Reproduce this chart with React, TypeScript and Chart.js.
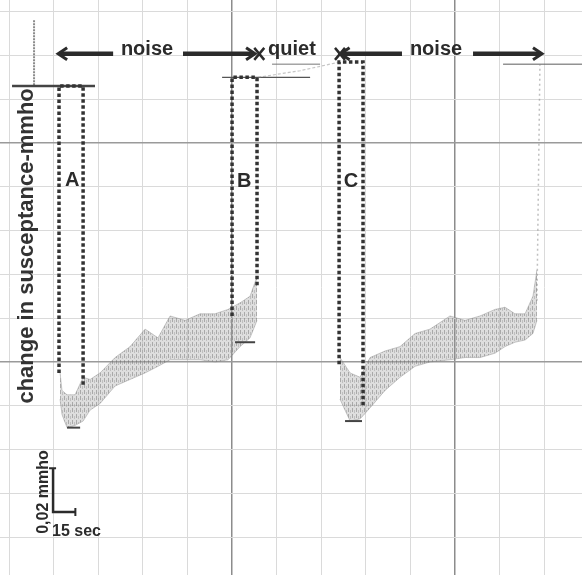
import { useEffect, useRef } from "react";
import { Chart, registerables } from "chart.js";

Chart.register(...registerables);

// Units: x = time in seconds (one grid square = 30 s),
//        y = change in susceptance in mmho (one grid square = 0.02 mmho)

// ---- grid / axis ----
const GRID_TIMES = [0, 30, 60, 90, 120, 150, 180, 210, 240, 270, 300, 330, 360];
const GRID_LEVELS = [0.06, 0.04, 0.02, 0, -0.02, -0.04, -0.06, -0.08, -0.1, -0.12, -0.14, -0.16, -0.18];
const MAJOR_TIMES = [150, 300];
const MAJOR_LEVELS = [0, -0.1];
const TIME_MIN = -6.1;
const TIME_MAX = 385.4;
const LEVEL_MIN = -0.1973;
const LEVEL_MAX = 0.0653;

// ---- recorder trace: noise period 1 (after A) ----
const trace1Times = [34.3, 35.6, 39.0, 44.4, 49.8, 54.5, 61.2, 71.3, 81.4, 91.5, 100.2, 108.3, 118.4, 128.5, 138.6, 147.3, 155.4, 162.1, 166.8];
const trace1Upper = [-0.105, -0.113, -0.115, -0.115, -0.107, -0.108, -0.105, -0.098, -0.093, -0.085, -0.089, -0.079, -0.081, -0.078, -0.078, -0.076, -0.073, -0.070, -0.061];
const trace1Lower = [-0.117, -0.124, -0.130, -0.129, -0.127, -0.122, -0.119, -0.111, -0.108, -0.105, -0.102, -0.099, -0.099, -0.099, -0.100, -0.099, -0.093, -0.089, -0.081];

// ---- recorder trace: noise period 2 (after C) ----
const trace2Times = [222.6, 229.4, 236.1, 242.8, 252.9, 263.0, 273.1, 283.2, 296.6, 306.7, 316.8, 326.9, 333.6, 340.3, 347.1, 352.4, 355.1];
const trace2Upper = [-0.098, -0.105, -0.107, -0.098, -0.095, -0.093, -0.087, -0.085, -0.079, -0.081, -0.079, -0.076, -0.075, -0.078, -0.078, -0.070, -0.058];
const trace2Lower = [-0.117, -0.127, -0.126, -0.121, -0.113, -0.107, -0.102, -0.100, -0.099, -0.098, -0.098, -0.096, -0.093, -0.091, -0.090, -0.087, -0.081];

// ---- recovery after period 2 ----
const riseTimes = [355.1, 357.1];
const riseLevels = [-0.072, 0.036];

// ---- baselines / quiet period ----
const baseATimes = [2.0, 57.8];
const baseALevels = [0.026, 0.026];
const quietTimes = [167.5, 195.7, 222.6];
const quietLevels = [0.030, 0.033, 0.037];
const refBTimes = [143.3, 202.5];
const refBLevels = [0.030, 0.030];
const refCTimes = [176.9, 209.2];
const refCLevels = [0.036, 0.036];
const endTimes = [332.3, 385.4];
const endLevels = [0.036, 0.036];
const markTimes = [16.8, 16.8];
const markLevels = [0.056, 0.026];

// ---- response boxes A, B, C (left-bottom, left-top, right-top, right-bottom) ----
const boxATimes = [33.6, 33.6, 49.8, 49.8];
const boxALevels = [-0.105, 0.026, 0.026, -0.111];
const boxBTimes = [150.0, 150.0, 166.8, 166.8];
const boxBLevels = [-0.079, 0.030, 0.030, -0.065];
const boxCTimes = [222.0, 222.0, 238.1, 238.1];
const boxCLevels = [-0.101, 0.037, 0.037, -0.120];

// ---- minimum markers ----
const minATimes = [39.0, 47.8];
const minALevels = [-0.130, -0.130];
const minBTimes = [152.0, 165.5];
const minBLevels = [-0.091, -0.091];
const minCTimes = [226.0, 237.4];
const minCLevels = [-0.127, -0.127];

// ---- scale bar ----
const SCALE_BAR_SEC = 15;
const SCALE_BAR_MMHO = 0.02;
const scaleBarOrigin = [29.6, -0.1685];

// ---- text ----
const Y_TITLE = "change in susceptance-mmho";
const BOX_NAMES = ["A", "B", "C"];
const PERIOD_NAMES = ["noise", "quiet", "noise"];
const SCALE_TEXT_Y = "0,02 mmho";
const SCALE_TEXT_X = "15 sec";

const INK = "#2b2b2b";
const FONT = '"Liberation Sans", Arial, Helvetica, sans-serif';

const pts = (xs: number[], ys: number[]) => xs.map((x, i) => ({ x, y: ys[i] }));

function makePattern(): CanvasPattern | string {
  const c = document.createElement("canvas");
  c.width = 4;
  c.height = 6;
  const g = c.getContext("2d");
  if (!g) return "rgba(140,140,140,0.45)";
  g.fillStyle = "rgba(160,160,160,0.35)";
  g.fillRect(0, 0, 4, 6);
  g.fillStyle = "rgba(90,90,90,0.40)";
  g.fillRect(0, 0, 1, 4);
  g.fillStyle = "rgba(120,120,120,0.30)";
  g.fillRect(2, 2, 1, 3);
  const p = g.createPattern(c, "repeat");
  return p || "rgba(140,140,140,0.45)";
}

const annotationPlugin = {
  id: "recorderAnnotations",
  afterDatasetsDraw(chart: any) {
    const { ctx } = chart;
    const xs = chart.scales.x;
    const ys = chart.scales.y;
    const px = (t: number) => xs.getPixelForValue(t);
    const py = (v: number) => ys.getPixelForValue(v);
    ctx.save();
    ctx.fillStyle = INK;
    ctx.strokeStyle = INK;
    ctx.lineCap = "butt";

    // period labels
    ctx.font = `bold 20px ${FONT}`;
    ctx.textAlign = "center";
    ctx.textBaseline = "middle";
    const periodPos = [[92.8, 0.0425], [190.3, 0.0425], [287.2, 0.0425]];
    PERIOD_NAMES.forEach((s, i) => ctx.fillText(s, px(periodPos[i][0]), py(periodPos[i][1])));

    // box labels
    const boxPos = [[42.4, -0.0169], [158.1, -0.0178], [230.0, -0.0174]];
    BOX_NAMES.forEach((s, i) => ctx.fillText(s, px(boxPos[i][0]), py(boxPos[i][1])));

    // arrows
    const shaft = (t0: number, t1: number, v: number) => {
      ctx.lineWidth = 4.5;
      ctx.beginPath();
      ctx.moveTo(px(t0), py(v));
      ctx.lineTo(px(t1), py(v));
      ctx.stroke();
    };
    const head = (t: number, v: number, dir: number) => {
      const x0 = px(t), y0 = py(v);
      ctx.lineWidth = 3;
      ctx.beginPath();
      ctx.moveTo(x0 - dir * 9, y0 - 6);
      ctx.lineTo(x0, y0);
      ctx.lineTo(x0 - dir * 9, y0 + 6);
      ctx.stroke();
    };
    const cross = (t: number, v: number) => {
      const x0 = px(t), y0 = py(v);
      ctx.lineWidth = 2.5;
      ctx.beginPath();
      ctx.moveTo(x0 - 5, y0 - 6);
      ctx.lineTo(x0 + 5, y0 + 6);
      ctx.moveTo(x0 + 5, y0 - 6);
      ctx.lineTo(x0 - 5, y0 + 6);
      ctx.stroke();
    };
    const av = 0.0407;
    shaft(33.8, 70.0, av);
    head(33.0, av, -1);
    shaft(117.0, 164.5, av);
    head(165.5, av, 1);
    cross(168.3, av);
    cross(222.6, av);
    head(223.0, av, -1);
    shaft(224.0, 264.3, av);
    shaft(312.1, 357.5, av);
    head(358.5, av, 1);

    // y title
    ctx.save();
    ctx.translate(px(12.1), py(-0.047));
    ctx.rotate(-Math.PI / 2);
    ctx.font = `bold 22px ${FONT}`;
    ctx.fillStyle = "#333";
    ctx.fillText(Y_TITLE, 0, 0);
    ctx.restore();

    // scale bar serifs and texts
    const bx = px(scaleBarOrigin[0]);
    const by = py(scaleBarOrigin[1]);
    const bt = py(scaleBarOrigin[1] + SCALE_BAR_MMHO);
    const br = px(scaleBarOrigin[0] + SCALE_BAR_SEC);
    ctx.lineWidth = 2;
    ctx.beginPath();
    ctx.moveTo(bx - 4, bt);
    ctx.lineTo(bx + 3, bt);
    ctx.moveTo(br, by - 4);
    ctx.lineTo(br, by + 4);
    ctx.stroke();

    ctx.save();
    ctx.translate(bx - 9, (bt + by) / 2 + 2);
    ctx.rotate(-Math.PI / 2);
    ctx.font = `bold 16px ${FONT}`;
    ctx.fillText(SCALE_TEXT_Y, 0, 0);
    ctx.restore();

    ctx.font = `bold 16px ${FONT}`;
    ctx.textAlign = "left";
    ctx.fillText(SCALE_TEXT_X, bx - 1, by + 20);

    ctx.restore();
  },
};

export default function App() {
  const ref = useRef<HTMLCanvasElement | null>(null);

  useEffect(() => {
    document.body.style.margin = "0";
    const canvas = ref.current;
    if (!canvas) return;
    const band = makePattern();
    const line = (data: any, color: string, width: number, extra: any = {}) => ({
      data,
      borderColor: color,
      borderWidth: width,
      pointRadius: 0,
      fill: false,
      tension: 0,
      ...extra,
    });
    const dotted = { borderDash: [3.5, 2.5], borderCapStyle: "butt" };
    const isMajor = (v: number, list: number[]) => list.some((m) => Math.abs(m - v) < 1e-9);

    const chart = new Chart(canvas, {
      type: "line",
      data: {
        datasets: [
          line(pts(boxATimes, boxALevels), "#333", 3.5, dotted),
          line(pts(boxBTimes, boxBLevels), "#333", 3.5, dotted),
          line(pts(boxCTimes, boxCLevels), "#333", 3.5, dotted),
          line(pts(minATimes, minALevels), "#444", 2),
          line(pts(minBTimes, minBLevels), "#444", 2),
          line(pts(minCTimes, minCLevels), "#444", 2),
          line(pts(trace1Times, trace1Upper), "rgba(130,130,130,0.4)", 1),
          line(pts(trace1Times, trace1Lower), "rgba(130,130,130,0.4)", 1, { fill: "-1", backgroundColor: band }),
          line(pts(trace2Times, trace2Upper), "rgba(130,130,130,0.4)", 1),
          line(pts(trace2Times, trace2Lower), "rgba(130,130,130,0.4)", 1, { fill: "-1", backgroundColor: band }),
          line(pts(riseTimes, riseLevels), "rgba(130,130,130,0.5)", 1.5, { borderDash: [2, 3] }),
          line(pts(baseATimes, baseALevels), "#444", 2.5),
          line(pts(quietTimes, quietLevels), "rgba(140,140,140,0.5)", 1.2, { borderDash: [3, 2] }),
          line(pts(refBTimes, refBLevels), "#555", 1.2),
          line(pts(refCTimes, refCLevels), "#777", 1),
          line(pts(endTimes, endLevels), "rgba(100,100,100,0.7)", 1.5),
          line(pts(markTimes, markLevels), "rgba(90,90,90,0.7)", 2, { borderDash: [2, 1] }),
          line(
            pts(
              [scaleBarOrigin[0], scaleBarOrigin[0], scaleBarOrigin[0] + SCALE_BAR_SEC],
              [scaleBarOrigin[1] + SCALE_BAR_MMHO, scaleBarOrigin[1], scaleBarOrigin[1]]
            ),
            INK,
            2.5
          ),
        ],
      },
      options: {
        animation: false,
        responsive: false,
        events: [],
        layout: { padding: 0 },
        plugins: { legend: { display: false }, tooltip: { enabled: false } },
        scales: {
          x: {
            type: "linear",
            min: TIME_MIN,
            max: TIME_MAX,
            afterBuildTicks: (s: any) => {
              s.ticks = GRID_TIMES.map((value) => ({ value }));
            },
            ticks: { display: false },
            border: { display: false },
            grid: {
              drawTicks: false,
              color: (c: any) => (isMajor(c.tick.value, MAJOR_TIMES) ? "#8c8c8c" : "#dadada"),
              lineWidth: (c: any) => (isMajor(c.tick.value, MAJOR_TIMES) ? 1.5 : 1),
            },
          },
          y: {
            type: "linear",
            min: LEVEL_MIN,
            max: LEVEL_MAX,
            afterBuildTicks: (s: any) => {
              s.ticks = GRID_LEVELS.map((value) => ({ value }));
            },
            ticks: { display: false },
            border: { display: false },
            grid: {
              drawTicks: false,
              color: (c: any) => (isMajor(c.tick.value, MAJOR_LEVELS) ? "#9a9a9a" : "#dadada"),
              lineWidth: (c: any) => (isMajor(c.tick.value, MAJOR_LEVELS) ? 1.5 : 1),
            },
          },
        },
      },
      plugins: [annotationPlugin],
    } as any);
    return () => chart.destroy();
  }, []);

  return (
    <div style={{ width: 582, height: 575, background: "#fff" }}>
      <canvas ref={ref} width={582} height={575} />
    </div>
  );
}
